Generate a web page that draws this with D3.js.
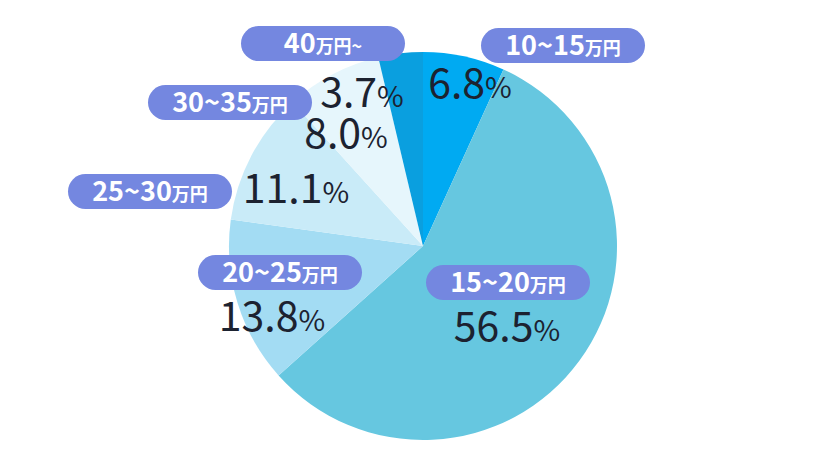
<!DOCTYPE html>
<html><head><meta charset="utf-8">
<script src="https://cdn.jsdelivr.net/npm/d3@7"></script>
<style>body{margin:0;background:#fff}text{font-family:"Noto Sans CJK JP","Noto Sans",sans-serif}</style>
</head><body>
<svg id="chart" width="838" height="466"></svg>
<script>
var categories = ["10~15", "15~20", "20~25", "25~30", "30~35", "40"];
var units = ["万円", "万円", "万円", "万円", "万円", "万円~"];
var values = [6.8, 56.5, 13.8, 11.1, 8.0, 3.7];
var colors = ["#00aaf2", "#66c7e0", "#a3dcf3", "#c9ebf8", "#e6f6fc", "#0a9fdf"];

// label layout: pill centre and percent text centre
var pillPos = [[563, 45], [508, 282], [280, 272], [150, 191], [230, 102], [323, 43]];
var pctPos = [[470, 84], [507, 327], [272, 317], [296, 189], [346, 134], [362, 93]];

var svg = d3.select("#chart");
var cx = 423, cy = 246, r = 194;

var pie = d3.pie().sort(null).value(d => d)(values);
var arc = d3.arc().innerRadius(0).outerRadius(r);

svg.append("g").attr("transform", "translate(" + cx + "," + cy + ")")
    .selectAll("path").data(pie).enter().append("path")
    .attr("d", arc)
    .attr("fill", (d, i) => colors[i]);

pie.forEach(function(d, i){
    var p = pctPos[i];
    var t = svg.append("text").attr("x", p[0]).attr("y", p[1] + 14)
        .attr("text-anchor", "middle").attr("fill", "#1c2230");
    t.append("tspan").attr("font-size", 41).text(values[i].toFixed(1));
    t.append("tspan").attr("font-size", 29).text("%");

    var q = pillPos[i];
    svg.append("rect").attr("x", q[0] - 82).attr("y", q[1] - 17)
        .attr("width", 164).attr("height", 35).attr("rx", 17.5)
        .attr("fill", "#7487e0");
    var l = svg.append("text").attr("x", q[0]).attr("y", q[1] + 10)
        .attr("text-anchor", "middle").attr("fill", "#fff").attr("font-weight", "bold");
    l.append("tspan").attr("font-size", 27).text(categories[i]);
    l.append("tspan").attr("font-size", 18).text(units[i]);
});
</script>
</body></html>
